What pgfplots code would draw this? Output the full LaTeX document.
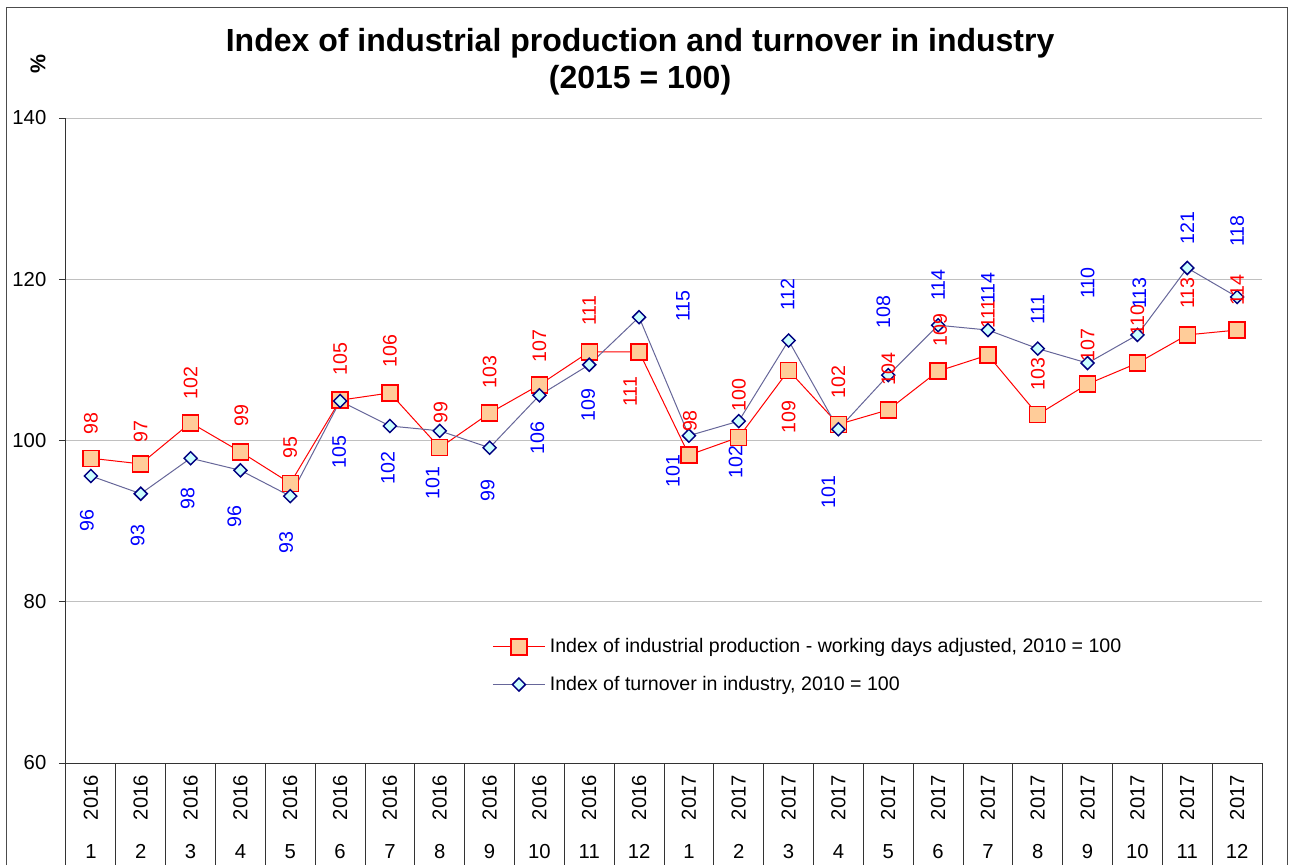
\documentclass[border=0pt]{standalone}
\usepackage{pgfplots}
\pgfplotsset{compat=1.18}
\usepackage{pgfplotstable}
\usepackage{fontspec}
\setmainfont{Liberation Sans}
\definecolor{prodred}{RGB}{255,0,0}
\definecolor{prodfill}{RGB}{255,204,153}
\definecolor{turnline}{RGB}{102,102,153}
\definecolor{turnedge}{RGB}{0,0,128}
\definecolor{turnfill}{RGB}{204,255,255}
\definecolor{labblue}{RGB}{0,0,255}
\definecolor{gridgray}{RGB}{192,192,192}
\newcommand\fs{\fontsize{14.7}{17.6}\selectfont}
\newcommand\ft{\fontsize{15.2}{18}\selectfont}
\newcommand\yl[2]{\begin{tabular}{@{}c@{}}\rotatebox{90}{#1}\\[10.5pt]#2\end{tabular}}

\pgfplotstableread{
x y dx up lab
1 97.8 0 35 98
2 97.1 0 32 97
3 102.2 0 40 102
4 98.6 1 36 99
5 94.7 0 36 95
6 105.0 0 41 105
7 105.9 0 42 106
8 99.1 1 35 99
9 103.4 0 41 103
10 106.9 0 39 107
11 111.0 0 41 111
12 111.0 -9 -40 111
13 98.2 1 34 98
14 100.4 0 42 100
15 108.7 0 -47 109
16 102.0 0 42 102
17 103.8 0 41 104
18 108.6 2 41 109
19 110.6 0 41 111
20 103.2 0 41 103
21 107.0 0 39 107
22 109.6 0 43 110
23 113.1 0 42 113
24 113.7 0 40 114
}\prodtab

\pgfplotstableread{
x y dx up lab
1 95.6 -4 -45 96
2 93.4 -3 -42 93
3 97.8 -3 -40 98
4 96.3 -6 -46 96
5 93.1 -4 -46 93
6 104.9 -1 -51 105
7 101.8 -2 -42 102
8 101.2 -7 -52 101
9 99.1 -2 -43 99
10 105.6 -2 -43 106
11 109.4 -1 -40 109
12 115.3 44 11 115
13 100.6 -16 -35 101
14 102.4 -3 -41 102
15 112.4 -1 46 112
16 101.4 -10 -63 101
17 108.1 -5 63 108
18 114.3 0 40 114
19 113.7 0 42 114
20 111.4 0 39 111
21 109.6 0 80 110
22 113.1 2 42 113
23 121.4 0 40 121
24 117.8 0 66 118
}\turntab

\begin{document}
\begin{tikzpicture}
\begin{axis}[
  scale only axis, width=897pt, height=483.75pt,
  xmin=0.5, xmax=24.5, ymin=60, ymax=140,
  axis lines*=left,
  axis line style={black!80, line width=0.75pt},
  clip=false,
  ytick={60,80,100,120,140},
  ymajorgrids, grid style={gridgray, line width=0.75pt},
  tick align=outside, major tick length=5.25pt,
  ytick style={black!80, line width=0.75pt},
  xtick={1,...,24},
  xtick style={draw=none},
  xticklabels={\yl{2016}{1},\yl{2016}{2},\yl{2016}{3},\yl{2016}{4},\yl{2016}{5},\yl{2016}{6},\yl{2016}{7},\yl{2016}{8},\yl{2016}{9},\yl{2016}{10},\yl{2016}{11},\yl{2016}{12},\yl{2017}{1},\yl{2017}{2},\yl{2017}{3},\yl{2017}{4},\yl{2017}{5},\yl{2017}{6},\yl{2017}{7},\yl{2017}{8},\yl{2017}{9},\yl{2017}{10},\yl{2017}{11},\yl{2017}{12}},
  xticklabel style={anchor=north, inner sep=0pt, font=\ft, yshift=-3.5pt},
  yticklabel style={font=\ft, xshift=-6pt},
  /pgf/number format/assume math mode=true,
  title={Index of industrial production and turnover in industry\\(2015 = 100)},
  title style={font=\bfseries\fontsize{24}{27.6}\selectfont, align=center, at={(0.48,1.0745)}, anchor=center},
  ylabel={\%},
  ylabel style={font=\bfseries\fontsize{16}{19}\selectfont, at={(axis description cs:-0.0234,1.084)}, anchor=center},
  legend image code/.code={\draw[mark repeat=2,mark phase=2,#1] plot coordinates {(0pt,0pt) (19.5pt,0pt) (39pt,0pt)};},
  legend style={at={(0.353,0.204)}, anchor=north west, draw=none, fill=none, font=\fs, row sep=9.5pt, legend cell align=left,
    nodes={inner sep=0.33em}, /tikz/every even column/.append style={column sep=2.5pt}},
]
\addplot[prodred, line width=0.75pt, mark=square*, mark size=6pt, mark options={draw=prodred, fill=prodfill, line width=1.1pt}]
  table[x=x, y=y]{\prodtab};
\addlegendentry{Index of industrial production - working days adjusted, 2010 = 100}
\addplot[turnline, line width=0.75pt, mark=square*, mark size=3.45pt, mark options={draw=turnedge, fill=turnfill, line width=1.1pt, rotate=45}]
  table[x=x, y=y]{\turntab};
\addlegendentry{Index of turnover in industry, 2010 = 100}

\addplot[draw=none, mark=none, forget plot, nodes near coords, point meta=explicit symbolic,
  visualization depends on={\thisrow{dx} \as \ldx},
  visualization depends on={\thisrow{up} \as \lup},
  nodes near coords style={anchor=center, font=\fs, text=prodred, inner sep=0pt, xshift=\ldx*0.75pt, yshift=\lup*0.75pt, rotate=90}]
  table[x=x, y=y, meta=lab]{\prodtab};
\addplot[draw=none, mark=none, forget plot, nodes near coords, point meta=explicit symbolic,
  visualization depends on={\thisrow{dx} \as \ldx},
  visualization depends on={\thisrow{up} \as \lup},
  nodes near coords style={anchor=center, font=\fs, text=labblue, inner sep=0pt, xshift=\ldx*0.75pt, yshift=\lup*0.75pt, rotate=90}]
  table[x=x, y=y, meta=lab]{\turntab};

\pgfplotsinvokeforeach{0.5,1.5,...,24.5}{\draw[black!80, line width=0.75pt] (axis cs:#1,60) -- ++(0pt,-76.5pt);}
\coordinate (O) at (rel axis cs:0,0);
\end{axis}
\draw[black!70, line width=0.75pt] ([shift={(-44.25pt,-76.5pt)}]O) -- ++(0pt,642.75pt) -- ++(960pt,0pt) -- ++(0pt,-642.75pt);
\pgfresetboundingbox
\path ([shift={(-49.5pt,-76.5pt)}]O) rectangle ++(969.75pt,648.75pt);
\end{tikzpicture}
\end{document}
